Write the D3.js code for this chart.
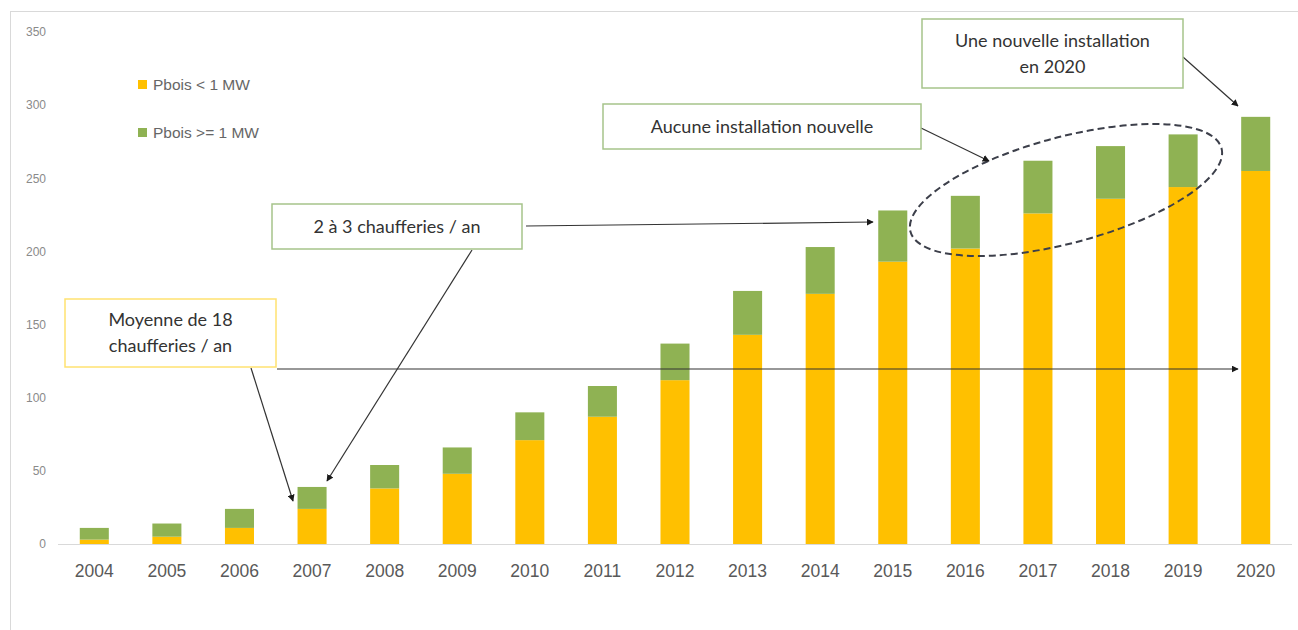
<!DOCTYPE html>
<html>
<head>
<meta charset="utf-8">
<script src="https://cdnjs.cloudflare.com/ajax/libs/d3/7.8.5/d3.min.js"></script>
<style>
  html, body { margin: 0; padding: 0; background: #ffffff; }
  svg { display: block; }
</style>
</head>
<body>
<svg id="chart" width="1298" height="630"></svg>
<script>
// Cumulative number of wood-fired boiler plants, by power class
const years = ["2004","2005","2006","2007","2008","2009","2010","2011","2012","2013","2014","2015","2016","2017","2018","2019","2020"];
const smallPlants = [3, 5, 11, 24, 38, 48, 71, 87, 112, 143, 171, 193, 202, 226, 236, 244, 255];
const largePlants = [8, 9, 13, 15, 16, 18, 19, 21, 25, 30, 32, 35, 36, 36, 36, 36, 37];
const yTicks = [0, 50, 100, 150, 200, 250, 300, 350];
const seriesNames = ["Pbois < 1 MW", "Pbois >= 1 MW"];
const seriesColors = ["#FFC000", "#8FB253"];

const svg = d3.select("#chart");
const W = 1298, H = 630;

// outer frame
svg.append("rect")
  .attr("x", 10.5).attr("y", 11.5)
  .attr("width", W).attr("height", H)
  .attr("fill", "none").attr("stroke", "#d9d9d9").attr("stroke-width", 1);

const x = d3.scaleBand().domain(years).range([58, 1292]).paddingInner(0.6).paddingOuter(0.3);
const y = d3.scaleLinear().domain([0, 350]).range([544, 32]);

const table = years.map((yr, i) => ({ year: yr, small: smallPlants[i], large: largePlants[i] }));
const stack = d3.stack().keys(["small", "large"])(table);

// y axis labels
const yAxis = svg.append("g")
  .attr("transform", "translate(46,0)")
  .call(d3.axisLeft(y).tickValues(yTicks).tickSize(0).tickPadding(0));
yAxis.select(".domain").remove();
yAxis.selectAll("text")
  .attr("font-family", "Liberation Sans, Arial, sans-serif")
  .attr("font-size", 12)
  .attr("fill", "#8a8a8a");

// bars
svg.append("g").selectAll("g")
  .data(stack)
  .join("g")
  .attr("fill", (d, i) => seriesColors[i])
  .selectAll("rect")
  .data(d => d)
  .join("rect")
  .attr("x", d => x(d.data.year))
  .attr("width", x.bandwidth())
  .attr("y", d => y(d[1]))
  .attr("height", d => y(d[0]) - y(d[1]));

// baseline and x labels
const xAxis = svg.append("g")
  .attr("transform", "translate(0,544)")
  .call(d3.axisBottom(x).tickSize(0).tickPadding(21));
xAxis.select(".domain").attr("stroke", "#d9d9d9").attr("d", "M58,0.5H1292");
xAxis.selectAll("text")
  .attr("font-family", "Liberation Sans, Arial, sans-serif")
  .attr("font-size", 17.5)
  .attr("fill", "#595959");

// legend
const legend = svg.append("g");
seriesNames.forEach((name, i) => {
  const ly = 85 + i * 48;
  legend.append("rect")
    .attr("x", 138).attr("y", ly - 5)
    .attr("width", 9).attr("height", 9)
    .attr("fill", seriesColors[i]);
  legend.append("text")
    .attr("x", 153).attr("y", ly + 5)
    .attr("font-family", "Liberation Sans, Arial, sans-serif")
    .attr("font-size", 15.5)
    .attr("fill", "#666666")
    .text(name);
});

// arrow marker
const defs = svg.append("defs");
defs.append("marker")
  .attr("id", "arrow")
  .attr("viewBox", "0 0 10 10")
  .attr("refX", 9).attr("refY", 5)
  .attr("markerWidth", 7).attr("markerHeight", 7)
  .attr("markerUnits", "userSpaceOnUse")
  .attr("orient", "auto")
  .append("path")
  .attr("d", "M0,0L10,5L0,10Z")
  .attr("fill", "#1a1a1a");

const ann = svg.append("g");

// dashed ellipse round the flat years
ann.append("ellipse")
  .attr("cx", 1066).attr("cy", 190)
  .attr("rx", 161).attr("ry", 53)
  .attr("transform", "rotate(-15 1066 190)")
  .attr("fill", "none")
  .attr("stroke", "#3c3f4a")
  .attr("stroke-width", 2)
  .attr("stroke-dasharray", "7 4");

function arrow(x1, y1, x2, y2) {
  ann.append("line")
    .attr("x1", x1).attr("y1", y1).attr("x2", x2).attr("y2", y2)
    .attr("stroke", "#333333").attr("stroke-width", 1.2)
    .attr("marker-end", "url(#arrow)");
}

function box(x0, y0, w, h, stroke, lines, lineGap) {
  ann.append("rect")
    .attr("x", x0).attr("y", y0).attr("width", w).attr("height", h)
    .attr("fill", "#ffffff").attr("stroke", stroke).attr("stroke-width", 1.5);
  const cy = y0 + h / 2;
  const t = ann.append("text")
    .attr("font-family", "Lato, 'Open Sans', sans-serif")
    .attr("font-size", 18)
    .attr("fill", "#333333")
    .attr("text-anchor", "middle");
  lines.forEach((ln, i) => {
    t.append("tspan")
      .attr("x", x0 + w / 2)
      .attr("y", cy + (i - (lines.length - 1) / 2) * lineGap + 6)
      .text(ln);
  });
}

const greenBox = "#a6c48a";
const yellowBox = "#ffe270";

// arrows
arrow(277, 369, 1238, 369);
arrow(251, 368, 293, 501);
arrow(526, 226, 873, 222);
arrow(472, 250, 327, 481);
arrow(921, 128, 989, 161);
arrow(1183, 57, 1238, 106);

// annotation boxes
box(65, 299, 211, 68, yellowBox, ["Moyenne de 18", "chaufferies / an"], 26);
box(272, 204, 250, 45, greenBox, ["2 à 3 chaufferies / an"], 26);
box(603, 104, 318, 45, greenBox, ["Aucune installation nouvelle"], 26);
box(922, 19, 261, 69, greenBox, ["Une nouvelle installation", "en 2020"], 26);
</script>
</body>
</html>
